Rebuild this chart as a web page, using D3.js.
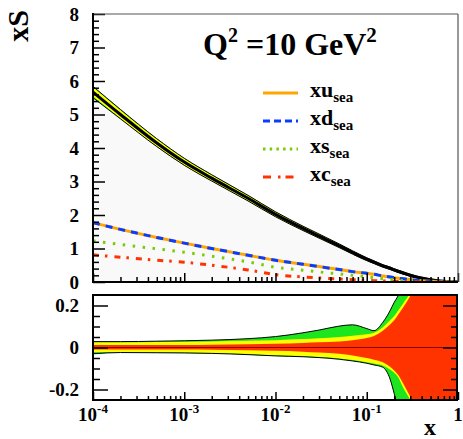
<!DOCTYPE html>
<html><head><meta charset="utf-8">
<script src="https://cdn.jsdelivr.net/npm/d3@7"></script>
<style>
body{margin:0;background:#fff}
svg{display:block}
text{font-family:"Liberation Serif","Times New Roman",serif;font-weight:bold;fill:#000}
</style>
</head><body>
<svg id="c" width="463" height="439"></svg>
<script>
// ---- data ----
const xGrid = [1e-4, 2e-4, 5e-4, 1e-3, 2e-3, 5e-3, 1e-2, 2e-2, 3e-2, 5e-2, 7e-2, 0.1, 0.12, 0.15, 0.18, 0.2, 0.22, 0.25, 0.3, 0.35, 0.5, 0.7, 1];
const seaTotal = [5.67, 5.0, 4.15, 3.58, 3.1, 2.5, 2.02, 1.6, 1.37, 1.08, 0.88, 0.68, 0.59, 0.48, 0.41, 0.36, 0.32, 0.27, 0.2, 0.15, 0.07, 0.02, 0];
// relative band widths of the sea band in the top panel
const topTotUp = [0.03, 0.03, 0.031, 0.032, 0.033, 0.035, 0.038, 0.042, 0.046, 0.052, 0.058, 0.065, 0.07, 0.08, 0.09, 0.1, 0.11, 0.13, 0.16, 0.2, 0.3, 0.5, 0.5];
const topModUp = [0.025, 0.025, 0.026, 0.027, 0.028, 0.03, 0.033, 0.036, 0.04, 0.045, 0.05, 0.056, 0.06, 0.07, 0.08, 0.09, 0.1, 0.12, 0.15, 0.19, 0.28, 0.45, 0.45];
const topTotLo = [-0.03, -0.026, -0.026, -0.027, -0.028, -0.032, -0.036, -0.04, -0.044, -0.05, -0.056, -0.063, -0.068, -0.078, -0.088, -0.1, -0.11, -0.13, -0.16, -0.2, -0.3, -0.5, -0.5];
const topModLo = [-0.022, -0.022, -0.023, -0.024, -0.026, -0.03, -0.034, -0.038, -0.042, -0.048, -0.054, -0.06, -0.065, -0.075, -0.085, -0.095, -0.105, -0.125, -0.155, -0.19, -0.28, -0.45, -0.45];
const xuSea = [1.77, 1.57, 1.33, 1.16, 1.0, 0.8, 0.65, 0.53, 0.46, 0.37, 0.31, 0.26, 0.23, 0.18, 0.15, 0.13, 0.115, 0.095, 0.07, 0.05, 0.022, 0.006, 0];
const xdSea = [1.77, 1.57, 1.33, 1.16, 1.0, 0.8, 0.65, 0.53, 0.46, 0.37, 0.31, 0.26, 0.23, 0.18, 0.15, 0.13, 0.115, 0.095, 0.07, 0.05, 0.022, 0.006, 0];
const xsSea = [1.23, 1.12, 0.99, 0.89, 0.77, 0.6, 0.44, 0.35, 0.3, 0.24, 0.2, 0.16, 0.13, 0.1, 0.08, 0.07, 0.06, 0.045, 0.033, 0.024, 0.009, 0.002, 0];
const xcSea = [0.81, 0.74, 0.65, 0.59, 0.5, 0.36, 0.22, 0.15, 0.12, 0.09, 0.07, 0.05, 0.04, 0.03, 0.022, 0.019, 0.016, 0.012, 0.008, 0.005, 0.002, 0, 0];
// relative uncertainties (ratio panel)
const totUp = [0.028, 0.028, 0.03, 0.032, 0.035, 0.042, 0.052, 0.07, 0.083, 0.102, 0.108, 0.09, 0.08, 0.12, 0.175, 0.215, 0.245, 0.3, 0.45, 0.6, 0.8, 1, 1];
const modUp = [0.025, 0.025, 0.026, 0.027, 0.029, 0.032, 0.035, 0.04, 0.044, 0.05, 0.056, 0.063, 0.07, 0.097, 0.13, 0.15, 0.175, 0.21, 0.26, 0.32, 0.6, 1, 1];
const expUp = [0.012, 0.012, 0.012, 0.012, 0.013, 0.015, 0.018, 0.022, 0.025, 0.028, 0.034, 0.045, 0.055, 0.08, 0.11, 0.13, 0.155, 0.19, 0.245, 0.3, 0.6, 1, 1];
const totLo = [-0.03, -0.024, -0.025, -0.026, -0.028, -0.034, -0.04, -0.044, -0.048, -0.056, -0.064, -0.075, -0.083, -0.094, -0.15, -0.22, -0.29, -0.4, -0.5, -0.6, -0.8, -1, -1];
const modLo = [-0.022, -0.022, -0.023, -0.024, -0.026, -0.031, -0.037, -0.041, -0.045, -0.052, -0.06, -0.07, -0.076, -0.086, -0.105, -0.12, -0.14, -0.19, -0.25, -0.31, -0.6, -1, -1];
const expLo = [-0.01, -0.01, -0.01, -0.01, -0.011, -0.013, -0.016, -0.02, -0.024, -0.03, -0.038, -0.05, -0.058, -0.07, -0.092, -0.11, -0.13, -0.17, -0.235, -0.29, -0.6, -1, -1];

const yTopTicks = [0, 1, 2, 3, 4, 5, 6, 7, 8];
const yBotTicks = [-0.2, 0, 0.2];
const yBotLabels = ["-0.2", "0", "0.2"];
const xMajor = [1e-4, 1e-3, 1e-2, 1e-1, 1];
const xExp = ["-4", "-3", "-2", "-1", null];
const legendNames = ["xu", "xd", "xs", "xc"];
const legendColors = ["#ffa500", "#0a3cff", "#7acc00", "#ff3300"];

// ---- layout ----
const svg = d3.select("#c");
const L = 93, R = 458;
const x = d3.scaleLog().domain([1e-4, 1]).range([L, R]);
const yT = d3.scaleLinear().domain([0, 8]).range([282, 14]);
const yB = d3.scaleLinear().domain([-0.25, 0.25]).range([400, 295]);
const idx = d3.range(xGrid.length);

const xMinor = [];
for (let e = -4; e < 0; e++) for (let m = 2; m <= 9; m++) xMinor.push(m * Math.pow(10, e));

svg.append("clipPath").attr("id", "cpT").append("rect").attr("x", L).attr("y", 14).attr("width", R - L).attr("height", 268);
svg.append("clipPath").attr("id", "cpB").append("rect").attr("x", L).attr("y", 295).attr("width", R - 1 - L).attr("height", 105);

// ---- top panel ----
const gT = svg.append("g").attr("clip-path", "url(#cpT)");
const lineT = arr => d3.line().x(i => x(xGrid[i])).y(i => yT(arr[i])).curve(d3.curveMonotoneX);
const areaT = (lo, hi) => d3.area().x(i => x(xGrid[i])).y0(i => yT(lo(i))).y1(i => yT(hi(i))).curve(d3.curveMonotoneX);

gT.append("path").attr("d", areaT(i => 0, i => seaTotal[i])(idx)).attr("fill", "#f9f9f9");
gT.append("path").attr("d", areaT(i => seaTotal[i] * (1 + topTotLo[i]), i => seaTotal[i] * (1 + topTotUp[i]))(idx)).attr("fill", "#1ee61e");
gT.append("path").attr("d", areaT(i => seaTotal[i] * (1 + topModLo[i]), i => seaTotal[i] * (1 + topModUp[i]))(idx)).attr("fill", "#ffff00");
gT.append("path").attr("d", lineT(seaTotal.map((v, i) => v * (1 + topTotUp[i])))(idx)).attr("fill", "none").attr("stroke", "#000").attr("stroke-width", 1);
gT.append("path").attr("d", lineT(seaTotal.map((v, i) => v * (1 + topTotLo[i])))(idx)).attr("fill", "none").attr("stroke", "#000").attr("stroke-width", 1);
gT.append("path").attr("d", lineT(seaTotal)(idx)).attr("fill", "none").attr("stroke", "#000").attr("stroke-width", 3);

gT.append("path").attr("d", lineT(xuSea)(idx)).attr("fill", "none").attr("stroke", legendColors[0]).attr("stroke-width", 3);
gT.append("path").attr("d", lineT(xdSea)(idx)).attr("fill", "none").attr("stroke", legendColors[1]).attr("stroke-width", 3).attr("stroke-dasharray", "7,6");
gT.append("path").attr("d", lineT(xsSea)(idx)).attr("fill", "none").attr("stroke", legendColors[2]).attr("stroke-width", 3).attr("stroke-dasharray", "2.5,7.5");
gT.append("path").attr("d", lineT(xcSea)(idx)).attr("fill", "none").attr("stroke", legendColors[3]).attr("stroke-width", 3).attr("stroke-dasharray", "6,6,2.5,7");

// top axes
const noDom = g => g.select(".domain").remove();
svg.append("g").attr("transform", `translate(${L},0)`)
  .call(d3.axisLeft(yT).tickValues(yTopTicks).tickSize(-12).tickFormat("")).call(noDom);
svg.append("g").attr("transform", `translate(${L},0)`)
  .call(d3.axisLeft(yT).tickValues(d3.range(0, 8, 0.2).filter(v => Math.abs(v - Math.round(v)) > 1e-6)).tickSize(-6).tickFormat("")).call(noDom);
svg.append("g").attr("transform", `translate(0,282)`)
  .call(d3.axisBottom(x).tickValues(xMajor).tickSize(-9).tickFormat("")).call(noDom);
svg.append("g").attr("transform", `translate(0,282)`)
  .call(d3.axisBottom(x).tickValues(xMinor).tickSize(-5).tickFormat("")).call(noDom);
svg.selectAll(".tick line").attr("stroke", "#000").attr("stroke-width", 1.5);

svg.append("line").attr("x1", L).attr("x2", R).attr("y1", 14).attr("y2", 14).attr("stroke", "#555").attr("stroke-width", 1.2);
svg.append("line").attr("x1", R).attr("x2", R).attr("y1", 14).attr("y2", 282).attr("stroke", "#555").attr("stroke-width", 1.2);
svg.append("line").attr("x1", L).attr("x2", L).attr("y1", 13).attr("y2", 283).attr("stroke", "#000").attr("stroke-width", 2);
svg.append("line").attr("x1", L).attr("x2", R).attr("y1", 282).attr("y2", 282).attr("stroke", "#000").attr("stroke-width", 2);

svg.append("g").selectAll("text").data(yTopTicks).join("text")
  .attr("x", 79).attr("y", d => yT(d) + 6.5).attr("text-anchor", "end").attr("font-size", 19).text(d => d);

// title
const ttl = svg.append("text").attr("x", 203).attr("y", 55).attr("font-size", 32);
ttl.append("tspan").text("Q");
ttl.append("tspan").attr("font-size", 20).attr("dy", -13).text("2");
ttl.append("tspan").attr("dy", 13).text(" =10 GeV");
ttl.append("tspan").attr("font-size", 21).attr("dy", -13).text("2");

// legend
const lg = svg.append("g");
const dashes = [null, "7,4", "2.5,4.2", "8,7,2.5,5"];
legendNames.forEach((n, i) => {
  const yy = 93 + i * 28;
  const ln = lg.append("line").attr("x1", 263).attr("x2", 298).attr("y1", yy).attr("y2", yy)
    .attr("stroke", legendColors[i]).attr("stroke-width", 3);
  if (dashes[i]) ln.attr("stroke-dasharray", dashes[i]);
  const t = lg.append("text").attr("x", 310).attr("y", yy + 4).attr("font-size", 22);
  t.append("tspan").text(n);
  t.append("tspan").attr("font-size", 15).attr("dy", 5).text("sea");
});

// y title
svg.append("text").attr("transform", "translate(28,10) rotate(-90)").attr("text-anchor", "end").attr("font-size", 30).text("xS");

// ---- bottom panel ----
const gB = svg.append("g").attr("clip-path", "url(#cpB)");
const areaB = (lo, hi) => d3.area().x(i => x(xGrid[i])).y0(i => yB(lo[i])).y1(i => yB(hi[i])).curve(d3.curveMonotoneX);
const lineB = arr => d3.line().x(i => x(xGrid[i])).y(i => yB(arr[i])).curve(d3.curveMonotoneX);
gB.append("path").attr("d", areaB(totLo, totUp)(idx)).attr("fill", "#1ee61e");
gB.append("path").attr("d", areaB(modLo, modUp)(idx)).attr("fill", "#ffff00");
gB.append("path").attr("d", areaB(expLo, expUp)(idx)).attr("fill", "#ff3300");
gB.append("path").attr("d", lineB(totUp)(idx)).attr("fill", "none").attr("stroke", "#000").attr("stroke-width", 1);
gB.append("path").attr("d", lineB(totLo)(idx)).attr("fill", "none").attr("stroke", "#000").attr("stroke-width", 1);
gB.append("line").attr("x1", L).attr("x2", R).attr("y1", yB(0)).attr("y2", yB(0)).attr("stroke", "#8b0000").attr("stroke-width", 1.2);

const axB = svg.append("g");
axB.append("g").attr("transform", `translate(${L},0)`)
  .call(d3.axisLeft(yB).tickValues(yBotTicks).tickSize(-15).tickFormat("")).call(noDom);
axB.append("g").attr("transform", `translate(${L},0)`)
  .call(d3.axisLeft(yB).tickValues([-0.15, -0.1, -0.05, 0.05, 0.1, 0.15]).tickSize(-7).tickFormat("")).call(noDom);
axB.append("g").attr("transform", `translate(${R - 1},0)`)
  .call(d3.axisRight(yB).tickValues(yBotTicks).tickSize(-14).tickFormat("")).call(noDom);
axB.append("g").attr("transform", `translate(${R - 1},0)`)
  .call(d3.axisRight(yB).tickValues([-0.15, -0.1, -0.05, 0.05, 0.1, 0.15]).tickSize(-6).tickFormat("")).call(noDom);
axB.append("g").attr("transform", `translate(0,400)`)
  .call(d3.axisBottom(x).tickValues(xMajor).tickSize(-8).tickFormat("")).call(noDom);
axB.append("g").attr("transform", `translate(0,400)`)
  .call(d3.axisBottom(x).tickValues(xMinor).tickSize(-4).tickFormat("")).call(noDom);
axB.selectAll(".tick line").attr("stroke", "#000").attr("stroke-width", 1.5);

svg.append("rect").attr("x", L).attr("y", 295).attr("width", R - 1 - L).attr("height", 105)
  .attr("fill", "none").attr("stroke", "#000").attr("stroke-width", 2);

svg.append("g").selectAll("text").data(yBotTicks).join("text")
  .attr("x", 79).attr("y", d => yB(d) + 6.5).attr("text-anchor", "end").attr("font-size", 19)
  .text((d, i) => yBotLabels[i]);

const xl = svg.append("g").selectAll("text").data(xMajor).join("text")
  .attr("x", d => x(d)).attr("y", 421).attr("text-anchor", "middle").attr("font-size", 19);
xl.each(function (d, i) {
  const t = d3.select(this);
  if (xExp[i] === null) { t.text("1"); return; }
  t.append("tspan").text("10");
  t.append("tspan").attr("font-size", 13).attr("dy", -8).text(xExp[i]);
});

svg.append("text").attr("x", 430).attr("y", 435).attr("text-anchor", "middle").attr("font-size", 24).text("x");
</script>
</body></html>
